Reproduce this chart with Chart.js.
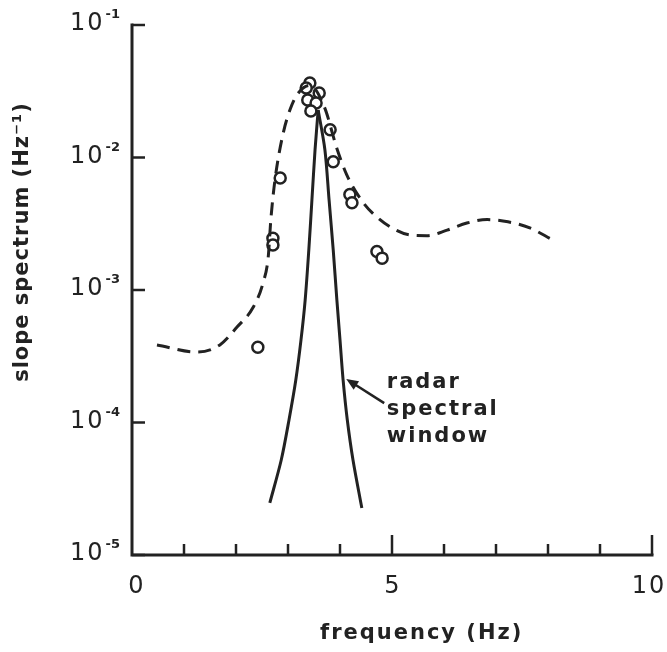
<!DOCTYPE html>
<html>
<head>
<meta charset="utf-8">
<script src="https://cdn.jsdelivr.net/npm/chart.js@4.4.0/dist/chart.umd.min.js"></script>
<style>
  html, body { margin: 0; padding: 0; background: #fff; }
</style>
</head>
<body>
<canvas id="chart" width="667" height="652"></canvas>
<script>
const INK  = "#222222";
const FONT = "'DejaVu Sans', sans-serif";

// dashed model curve
const modelFreq  = [0.48, 1.25, 1.69, 2.02, 2.33, 2.52, 2.62, 2.67, 2.75, 2.90, 3.04, 3.17, 3.42, 3.70, 3.94, 4.13, 4.44, 4.71, 5.00, 5.35, 5.67, 6.06, 6.44, 6.83, 7.23, 7.65, 8.08];
const modelSlope = [3.85e-4, 3.4e-4, 3.85e-4, 5.25e-4, 7.4e-4, 1.13e-3, 1.78e-3, 3.4e-3, 6.8e-3, 1.48e-2, 2.3e-2, 2.96e-2, 3.5e-2, 2.4e-2, 1.17e-2, 7.4e-3, 4.6e-3, 3.55e-3, 2.94e-3, 2.6e-3, 2.57e-3, 2.83e-3, 3.2e-3, 3.4e-3, 3.27e-3, 2.94e-3, 2.4e-3];

// radar spectral window (two legs meeting at the peak)
const winLeftFreq  = [2.65, 2.87, 3.02, 3.15, 3.25, 3.33, 3.40, 3.46, 3.52, 3.58];
const winLeftVal   = [2.47e-5, 5.21e-5, 1.05e-4, 2.09e-4, 4.2e-4, 8.4e-4, 2.0e-3, 4.78e-3, 1.14e-2, 2.28e-2];
const winRightFreq = [3.58, 3.71, 3.79, 3.87, 3.94, 4.00, 4.06, 4.14, 4.25, 4.42];
const winRightVal  = [2.28e-2, 1.14e-2, 4.78e-3, 2.0e-3, 8.4e-4, 4.2e-4, 2.09e-4, 1.05e-4, 5.21e-5, 2.26e-5];

// measured points
const obsFreq  = [3.42, 3.35, 3.60, 3.38, 3.54, 3.44, 3.81, 3.87, 4.19, 4.23, 4.71, 4.81, 2.85, 2.71, 2.71, 2.42];
const obsSlope = [3.65e-2, 3.35e-2, 3.07e-2, 2.72e-2, 2.58e-2, 2.24e-2, 1.62e-2, 9.3e-3, 5.25e-3, 4.55e-3, 1.95e-3, 1.74e-3, 7.0e-3, 2.46e-3, 2.19e-3, 3.7e-4];

// axes
const xTicks     = [1, 2, 3, 4, 5, 6, 7, 8, 9, 10];
const xMajor     = [5, 10];
const xLabelVals = [0, 5, 10];
const xLabelNudge = [4, 0, -4];
const yTicks     = [1e-5, 1e-4, 1e-3, 1e-2, 1e-1];
const yExps      = ["-5", "-4", "-3", "-2", "-1"];

const noteLines = ["radar", "spectral", "window"];
const noteAt    = { x: 4.9, y: 1.82e-4 };
const arrowTail = { x: 4.85, y: 1.40e-4 };
const arrowTip  = { x: 4.12, y: 2.13e-4 };

const pts = (xs, ys) => xs.map((x, i) => ({ x, y: ys[i] }));

const decor = {
  id: "decor",
  beforeDatasetsDraw(chart) {
    const { ctx, chartArea: a, scales: { x, y } } = chart;
    ctx.save();
    ctx.strokeStyle = INK;
    ctx.fillStyle = INK;

    // axis lines
    ctx.lineWidth = 3;
    ctx.lineCap = "square";
    ctx.beginPath();
    ctx.moveTo(a.left, a.top);
    ctx.lineTo(a.left, a.bottom);
    ctx.lineTo(a.right, a.bottom);
    ctx.stroke();

    // inward ticks
    ctx.lineWidth = 2.5;
    ctx.lineCap = "butt";
    xTicks.forEach(v => {
      const px = x.getPixelForValue(v);
      const len = xMajor.includes(v) ? 20 : 11;
      ctx.beginPath();
      ctx.moveTo(px, a.bottom);
      ctx.lineTo(px, a.bottom - len);
      ctx.stroke();
    });
    yTicks.forEach(v => {
      const py = y.getPixelForValue(v);
      ctx.beginPath();
      ctx.moveTo(a.left, py);
      ctx.lineTo(a.left + 13, py);
      ctx.stroke();
    });

    // x tick labels
    ctx.font = `24px ${FONT}`;
    ctx.letterSpacing = "2px";
    ctx.textAlign = "left";
    ctx.textBaseline = "alphabetic";
    xLabelVals.forEach((v, i) => {
      const s = String(v);
      const w = ctx.measureText(s).width - 2;
      ctx.fillText(s, x.getPixelForValue(v) - w / 2 + xLabelNudge[i], a.bottom + 38);
    });

    // y tick labels: 10 with exponent
    yTicks.forEach((v, i) => {
      const py = y.getPixelForValue(v);
      const x0 = a.left - 62;
      ctx.font = `24px ${FONT}`;
      ctx.letterSpacing = "2px";
      ctx.fillText("10", x0, py + 5);
      const w = ctx.measureText("10").width;
      ctx.font = `bold 13px ${FONT}`;
      ctx.letterSpacing = "0px";
      ctx.fillText(yExps[i], x0 + w + 1, py - 7);
    });

    // axis titles
    ctx.font = `bold 21px ${FONT}`;
    ctx.letterSpacing = "2px";
    ctx.textAlign = "left";
    ctx.fillText("frequency (Hz)", 320, a.bottom + 84);

    ctx.save();
    ctx.translate(28, 242);
    ctx.rotate(-Math.PI / 2);
    ctx.letterSpacing = "1px";
    ctx.textAlign = "center";
    ctx.fillText("slope spectrum (Hz\u207B\u00B9)", 0, 0);
    ctx.restore();

    // annotation
    const nx = x.getPixelForValue(noteAt.x);
    const ny = y.getPixelForValue(noteAt.y);
    ctx.textAlign = "left";
    ctx.letterSpacing = "2px";
    noteLines.forEach((t, i) => ctx.fillText(t, nx, ny + i * 27));

    const tx = x.getPixelForValue(arrowTail.x), ty = y.getPixelForValue(arrowTail.y);
    const hx = x.getPixelForValue(arrowTip.x),  hy = y.getPixelForValue(arrowTip.y);
    const ang = Math.atan2(hy - ty, hx - tx);
    ctx.lineWidth = 2.5;
    ctx.beginPath();
    ctx.moveTo(tx, ty);
    ctx.lineTo(hx - 8 * Math.cos(ang), hy - 8 * Math.sin(ang));
    ctx.stroke();
    ctx.beginPath();
    ctx.moveTo(hx, hy);
    ctx.lineTo(hx - 12 * Math.cos(ang) + 5 * Math.sin(ang), hy - 12 * Math.sin(ang) - 5 * Math.cos(ang));
    ctx.lineTo(hx - 12 * Math.cos(ang) - 5 * Math.sin(ang), hy - 12 * Math.sin(ang) + 5 * Math.cos(ang));
    ctx.closePath();
    ctx.fill();

    ctx.restore();
  },
};

new Chart(document.getElementById("chart"), {
  type: "scatter",
  data: {
    datasets: [
      {
        data: pts(modelFreq, modelSlope),
        showLine: true, borderColor: INK, borderWidth: 3, borderDash: [13, 8],
        pointRadius: 0, cubicInterpolationMode: "monotone",
      },
      {
        data: pts(winLeftFreq, winLeftVal),
        showLine: true, borderColor: INK, borderWidth: 3,
        pointRadius: 0, tension: 0.3,
      },
      {
        data: pts(winRightFreq, winRightVal),
        showLine: true, borderColor: INK, borderWidth: 3,
        pointRadius: 0, tension: 0.3,
      },
      {
        data: pts(obsFreq, obsSlope),
        showLine: false, pointStyle: "circle", pointRadius: 5.5,
        borderColor: INK, borderWidth: 2.5, backgroundColor: "#fff",
      },
    ],
  },
  options: {
    responsive: false,
    animation: false,
    layout: { padding: { left: 132, right: 15, top: 25, bottom: 97 } },
    plugins: { legend: { display: false }, tooltip: { enabled: false } },
    scales: {
      x: { type: "linear", min: 0, max: 10, display: false },
      y: { type: "logarithmic", min: 1e-5, max: 1e-1, display: false },
    },
  },
  plugins: [decor],
});
</script>
</body>
</html>
